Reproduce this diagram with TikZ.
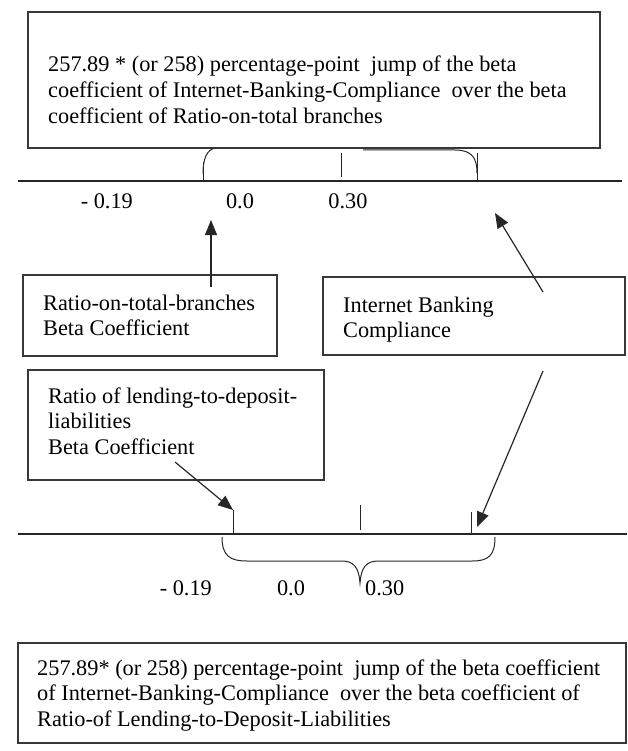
\documentclass[tikz,border=0pt]{standalone}
\usepackage{fontspec}
\setmainfont{Liberation Serif}
\usetikzlibrary{arrows.meta}
\newcommand\mylines[1]{\begin{tabular}[t]{@{}l@{}}#1\end{tabular}}
\begin{document}
\begin{tikzpicture}[x=1pt,y=-1pt,
  boxnode/.style={draw=black!78,line width=1.3pt,inner sep=0pt,outer sep=0pt,anchor=north west},
  txt/.style={inner sep=0pt,anchor=base west,font=\fontsize{22.3}{25.8}\selectfont},
  lbl/.style={inner sep=0pt,font=\fontsize{22.3}{25.8}\selectfont},
  axisline/.style={line width=1.3pt,black!85},
  thinline/.style={line width=1pt,black!85},
  arr/.style={line width=1.2pt,black!85,-{Stealth[length=15pt,width=12pt,inset=0pt]}}
]
\useasboundingbox (0,0) rectangle (627,751);
% boxes
\node[boxnode,minimum width=572pt,minimum height=136pt] (topbox) at (28,12) {};
\node[txt] (toptext) at (48,72) {\mylines{257.89 * (or 258) percentage-point\ \ jump of the beta\\
coefficient of Internet-Banking-Compliance\ \ over the beta\\
coefficient of Ratio-on-total branches}};

\node[boxnode,minimum width=254pt,minimum height=81pt] (rbox) at (23,275) {};
\node[txt] (rtext) at (43,310) {\mylines{Ratio-on-total-branches\\Beta Coefficient}};

\node[boxnode,minimum width=302pt,minimum height=78pt] (ibox) at (323,277) {};
\node[txt] (itext) at (343,312) {\mylines{Internet Banking\\Compliance}};

\node[boxnode,minimum width=296pt,minimum height=110pt] (lbox) at (28,370) {};
\node[txt] (ltext) at (48,403) {\mylines{Ratio of lending-to-deposit-\\liabilities\\Beta Coefficient}};

\node[boxnode,minimum width=608pt,minimum height=100pt] (botbox) at (18,643) {};
\node[txt] (bottext) at (37,675) {\mylines{257.89* (or 258) percentage-point\ \ jump of the beta coefficient\\
of Internet-Banking-Compliance\ \ over the beta coefficient of\\
Ratio-of Lending-to-Deposit-Liabilities}};

% top axis
\coordinate (tax0) at (18,181);
\coordinate (tax1) at (622,181);
\draw[axisline] (tax0) -- (tax1);
\coordinate (tt1) at (203,181);
\coordinate (tt2) at (341,177);
\coordinate (tt3) at (477,181);
\draw[thinline] (tt1) -- ++(0,-19);
\draw[thinline] (tt2) -- ++(0,-24);
\draw[thinline] (tt3) -- ++(0,-28);
\draw[thinline] (203,174) .. controls (203,158) and (207,150) .. (215,148);
\draw[thinline] (363,150) -- (455,150) .. controls (472,150) and (477,158) .. (477,173);
\node[lbl,anchor=base east] (tl1) at (133,208) {- 0.19};
\node[lbl,anchor=base] (tl2) at (240,208) {0.0};
\node[lbl,anchor=base] (tl3) at (348,208) {0.30};

% bottom axis
\coordinate (bax0) at (18,534);
\coordinate (bax1) at (627,534);
\draw[axisline] (bax0) -- (bax1);
\coordinate (bt1) at (233,534);
\coordinate (bt2) at (360,530);
\coordinate (bt3) at (471,534);
\draw[thinline] (bt1) -- ++(0,-24);
\draw[thinline] (bt2) -- ++(0,-25);
\draw[thinline] (bt3) -- ++(0,-22);
\draw[thinline] (222,537) .. controls (222,556) and (230,561) .. (247,561) -- (342,561)
  .. controls (354,561) and (359,568) .. (360,583)
  .. controls (361,568) and (366,561) .. (378,561) -- (472,561)
  .. controls (488,561) and (495,556) .. (495,537);
\node[lbl,anchor=base east] (bl1) at (212,595) {- 0.19};
\node[lbl,anchor=base] (bl2) at (291,595) {0.0};
\node[lbl,anchor=base west] (bl3) at (365,595) {0.30};

% arrows
\coordinate (a1s) at (211,287);
\coordinate (a1e) at (211,220);
\coordinate (a2s) at (543,292);
\coordinate (a2e) at (495,213);
\coordinate (a3s) at (175,462);
\coordinate (a3e) at (233,510);
\coordinate (a4s) at (543,371);
\coordinate (a4e) at (477,527);
\draw[arr] (a1s) -- (a1e);
\draw[arr] (a2s) -- (a2e);
\draw[arr] (a3s) -- (a3e);
\draw[arr] (a4s) -- (a4e);
\end{tikzpicture}
\end{document}
